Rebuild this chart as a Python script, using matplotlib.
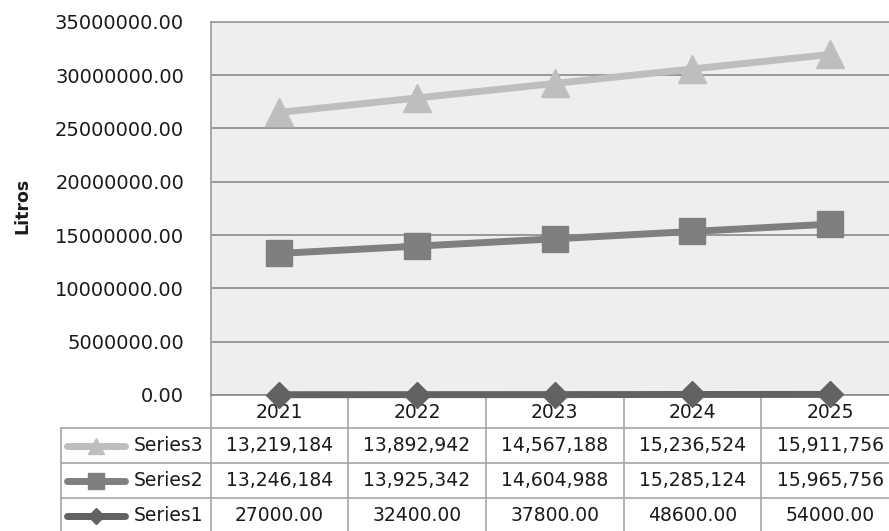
import numpy as np
import matplotlib.pyplot as plt
import matplotlib.transforms as mtransforms

years = ["2021", "2022", "2023", "2024", "2025"]
series_names = ["Series1", "Series2", "Series3"]
series1 = [27000.00, 32400.00, 37800.00, 48600.00, 54000.00]
series2 = [13246184, 13925342, 14604988, 15285124, 15965756]
series3 = [13219184, 13892942, 14567188, 15236524, 15911756]
table_text = {
    "Series3": ["13,219,184", "13,892,942", "14,567,188", "15,236,524", "15,911,756"],
    "Series2": ["13,246,184", "13,925,342", "14,604,988", "15,285,124", "15,965,756"],
    "Series1": ["27000.00", "32400.00", "37800.00", "48600.00", "54000.00"],
}

colors = {"Series1": "#626262", "Series2": "#7f7f7f", "Series3": "#bebebe"}
markers = {"Series1": "D", "Series2": "s", "Series3": "^"}
msizes = {"Series1": 13, "Series2": 19, "Series3": 20}

plt.rcParams["font.family"] = "DejaVu Sans"

W, H = 889, 531
fig = plt.figure(figsize=(W / 100, H / 100), dpi=100)
fig.patch.set_facecolor("white")

# plot area in pixels
left_px, right_px, top_px, bottom_px = 210.5, 899, 21.7, 395
ax = fig.add_axes([left_px / W, 1 - bottom_px / H,
                   (right_px - left_px) / W, (bottom_px - top_px) / H])
ax.set_facecolor("#eeeeee")
ax_h = bottom_px - top_px

# stacked line chart
x = np.arange(len(years))
stacked = np.cumsum(np.array([series1, series2, series3], dtype=float), axis=0)
for name, vals in zip(series_names, stacked):
    ax.plot(x, vals, color=colors[name], lw=5, marker=markers[name],
            markersize=msizes[name], markerfacecolor=colors[name],
            markeredgecolor=colors[name], clip_on=False, zorder=5,
            solid_joinstyle="round")

ax.set_xlim(-0.5, len(years) - 0.5)
ax.set_ylim(0, 35000000)
ax.set_yticks(np.arange(0, 35000001, 5000000))
ax.set_yticklabels([f"{v:.2f}" for v in np.arange(0, 35000001, 5000000)])
ax.tick_params(axis="y", length=0, pad=19, labelsize=14, labelcolor="#1a1a1a")
ax.set_xticks([])
ax.grid(axis="y", color="#8a8a8a", lw=1.2)
ax.set_axisbelow(True)
for s in ["left", "top"]:
    ax.spines[s].set_color("#9a9a9a")
    ax.spines[s].set_linewidth(1.2)
ax.spines["right"].set_visible(False)
ax.spines["bottom"].set_color("#8a8a8a")
ax.spines["bottom"].set_linewidth(1.2)

fig.text(22 / W, 1 - 206 / H, "Litros", rotation=90, ha="center", va="center",
         fontsize=12.5, fontweight="bold", color="#1a1a1a")

# data table below the plot
trans = mtransforms.blended_transform_factory(ax.transData, ax.transAxes)
px = 1.0 / 137.7  # data units per pixel along x


def yf(p):
    return -(p - bottom_px) / ax_h


row_lines = [428, 463, 498]
row_centers = [445.5, 480.5, 515.5]
label_left = -0.5 - (left_px - 61) * px
line_kw = dict(color="#a6a6a6", lw=1.2, transform=trans, clip_on=False)

for i in range(len(years) + 1):
    ax.plot([i - 0.5, i - 0.5], [0, yf(540)], **line_kw)
ax.plot([label_left, label_left], [yf(row_lines[0]), yf(540)], **line_kw)
for r in row_lines:
    ax.plot([label_left, len(years) - 0.5], [yf(r), yf(r)], **line_kw)

for i, yr in enumerate(years):
    ax.text(i, yf(412), yr, transform=trans, ha="center", va="center",
            fontsize=13.5, color="#1a1a1a")

for name, yc in zip(["Series3", "Series2", "Series1"], row_centers):
    k0 = -0.5 - (left_px - 67) * px
    k1 = -0.5 - (left_px - 125) * px
    ax.plot([k0, k1], [yf(yc), yf(yc)], color=colors[name], lw=5,
            transform=trans, clip_on=False, solid_capstyle="round")
    ax.plot([(k0 + k1) / 2], [yf(yc)], marker=markers[name],
            markersize=msizes[name] * 0.6, color=colors[name],
            transform=trans, clip_on=False)
    ax.text(-0.5 - (left_px - 203) * px, yf(yc), name, transform=trans,
            ha="right", va="center", fontsize=13.5, color="#1a1a1a")
    for i, t in enumerate(table_text[name]):
        ax.text(i, yf(yc), t, transform=trans, ha="center", va="center",
                fontsize=13.5, color="#1a1a1a")

fig.savefig("out.png", dpi=100)
